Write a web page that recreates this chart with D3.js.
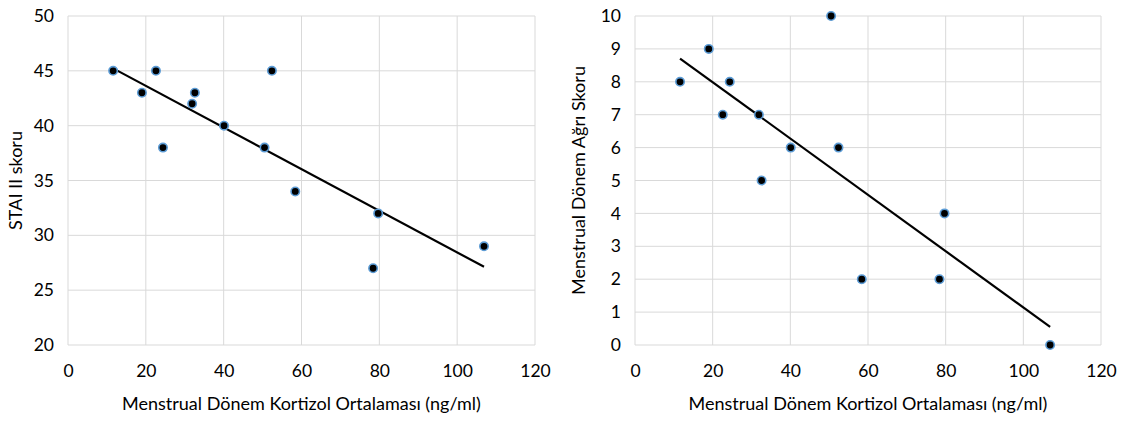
<!DOCTYPE html>
<html><head><meta charset="utf-8">
<script src="https://cdn.jsdelivr.net/npm/d3@7"></script>
<style>
body{margin:0;background:#fff;}
text{font-family:Lato,sans-serif;fill:#000;}
</style></head>
<body><svg id="c" width="1121" height="421"></svg>
<script>
const cortisol = [11.6, 19.0, 22.6, 24.4, 31.9, 32.6, 40.1, 50.5, 52.4, 58.4, 78.4, 79.7, 106.9];
const staiScores = [45, 43, 45, 38, 42, 43, 40, 38, 45, 34, 27, 32, 29];
const painScores = [8, 9, 7, 8, 7, 5, 6, 10, 6, 2, 2, 4, 0];
const xTicks = [0, 20, 40, 60, 80, 100, 120];
const staiTicks = [20, 25, 30, 35, 40, 45, 50];
const painTicks = [0, 1, 2, 3, 4, 5, 6, 7, 8, 9, 10];
const xTitle = "Menstrual Dönem Kortizol Ortalaması (ng/ml)";

const svg = d3.select("#c");

function regression(xs, ys){
  const mx = d3.mean(xs), my = d3.mean(ys);
  let num=0, den=0;
  xs.forEach((x,i)=>{num+=(x-mx)*(ys[i]-my); den+=(x-mx)*(x-mx);});
  const b=num/den; return {a: my-b*mx, b};
}

function panel(opts){
  const {x0,x1,y0,y1,ydom,yticks,ys,ytitle,ytitleX} = opts;
  const g = svg.append("g");
  const x = d3.scaleLinear().domain([0,120]).range([x0,x1]);
  const y = d3.scaleLinear().domain(ydom).range([y1,y0]);
  g.selectAll(".vg").data(xTicks).join("line")
    .attr("x1",d=>x(d)).attr("x2",d=>x(d)).attr("y1",y0).attr("y2",y1)
    .attr("stroke","#d9d9d9").attr("stroke-width",1);
  g.selectAll(".hg").data(yticks).join("line")
    .attr("y1",d=>y(d)).attr("y2",d=>y(d)).attr("x1",x0).attr("x2",x1)
    .attr("stroke","#d9d9d9").attr("stroke-width",1);
  const xa = g.append("g").attr("transform",`translate(0,${y1})`)
    .call(d3.axisBottom(x).tickValues(xTicks).tickSize(0).tickPadding(20));
  xa.select(".domain").remove();
  xa.selectAll("text").style("font-size","17.5px").style("font-family","Lato");
  const ya = g.append("g").attr("transform",`translate(${x0},0)`)
    .call(d3.axisLeft(y).tickValues(yticks).tickSize(0).tickPadding(14));
  ya.select(".domain").remove();
  ya.selectAll("text").style("font-size","17.5px").style("font-family","Lato");
  g.append("text").attr("x",(x0+x1)/2).attr("y",410).attr("text-anchor","middle")
    .style("font-size","18px").text(xTitle);
  g.append("text").attr("transform",`translate(${ytitleX},${(y0+y1)/2}) rotate(-90)`)
    .attr("text-anchor","middle").style("font-size","18px").text(ytitle);
  const r = regression(cortisol, ys);
  const xmin = d3.min(cortisol), xmax = d3.max(cortisol);
  g.append("line").attr("x1",x(xmin)).attr("y1",y(r.a+r.b*xmin))
    .attr("x2",x(xmax)).attr("y2",y(r.a+r.b*xmax))
    .attr("stroke","#000").attr("stroke-width",2.2);
  g.selectAll(".pt").data(cortisol.map((c,i)=>[c,ys[i]])).join("circle")
    .attr("cx",d=>x(d[0])).attr("cy",d=>y(d[1])).attr("r",4.2)
    .attr("fill","#000").attr("stroke","#5b9bd5").attr("stroke-width",1.6);
}

panel({x0:68,x1:535,y0:16,y1:345,ydom:[20,50],yticks:staiTicks,ys:staiScores,ytitle:"STAI II skoru",ytitleX:22});
panel({x0:635,x1:1101,y0:16,y1:345,ydom:[0,10],yticks:painTicks,ys:painScores,ytitle:"Menstrual Dönem Ağrı Skoru",ytitleX:585});
</script></body></html>
